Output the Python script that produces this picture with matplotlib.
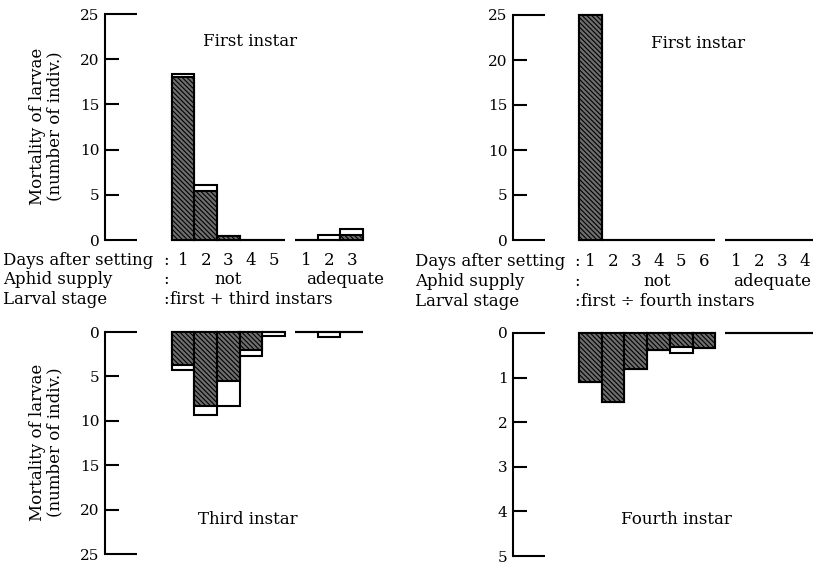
import numpy as np
import matplotlib.pyplot as plt
from matplotlib import transforms

plt.rcParams['font.family'] = 'DejaVu Serif'
plt.rcParams['hatch.linewidth'] = 0.8

# first + third instars (left), first + fourth instars (right)
days_left_not = ["1", "2", "3", "4", "5"]
days_left_adeq = ["1", "2", "3"]
days_right_not = ["1", "2", "3", "4", "5", "6"]
days_right_adeq = ["1", "2", "3", "4"]

# hatched part and total height of each bar
first_left_hatch = [18.0, 5.4, 0.4, 0, 0, 0, 0, 0.5]
first_left_total = [18.4, 6.1, 0.4, 0, 0, 0, 0.5, 1.2]
third_hatch = [3.7, 8.3, 5.5, 2.0, 0, 0, 0, 0]
third_total = [4.3, 9.4, 8.3, 2.7, 0.4, 0, 0.6, 0]

first_right_hatch = [25, 0, 0, 0, 0, 0, 0, 0, 0, 0]
first_right_total = [25, 0, 0, 0, 0, 0, 0, 0, 0, 0]
fourth_hatch = [1.1, 1.55, 0.8, 0.37, 0.31, 0.34, 0, 0, 0, 0]
fourth_total = [1.1, 1.55, 0.8, 0.37, 0.45, 0.34, 0, 0, 0, 0]

W, H = 813, 568
fig = plt.figure(figsize=(W / 100, H / 100), dpi=100)


def px_axes(left, top, right, bottom):
    return fig.add_axes([left / W, 1 - bottom / H, (right - left) / W, (bottom - top) / H])


def positions(n_not, n_adeq, gap=0.45):
    return np.concatenate([np.arange(n_not), n_not + gap + np.arange(n_adeq)])


def panel(ax, pos, hatch_vals, total_vals, ymax, step, invert, xlim):
    ax.bar(pos, total_vals, width=1.0, facecolor='white', edgecolor='black',
           linewidth=1.5, clip_on=False)
    ax.bar(pos, hatch_vals, width=1.0, facecolor='#6e6e6e', edgecolor='black',
           linewidth=1.5, hatch='\\\\\\\\\\\\\\', clip_on=False)
    ax.set_xlim(*xlim)
    ax.set_ylim((ymax, 0) if invert else (0, ymax))
    for s in ['top', 'right', 'bottom']:
        ax.spines[s].set_visible(False)
    ax.spines['left'].set_linewidth(1.5)
    ax.set_xticks([])
    ax.set_yticks(np.arange(0, ymax + step / 2, step))
    ax.tick_params(axis='y', direction='in', length=10, width=1.5, pad=4, labelsize=11)
    ticks = ax.yaxis.get_major_ticks()
    ticks[0].tick1line.set_markersize(23)
    ticks[-1].tick1line.set_markersize(23)


pos_l = positions(len(days_left_not), len(days_left_adeq))
pos_r = positions(len(days_right_not), len(days_right_adeq), gap=0.44)
xlim_l = (-3.46, 8.0)
xlim_r = (-3.41, 9.94)

ax1 = px_axes(105, 14, 364, 240)
panel(ax1, pos_l, first_left_hatch, first_left_total, 25, 5, False, xlim_l)
ax2 = px_axes(105, 332, 364, 554)
panel(ax2, pos_l, third_hatch, third_total, 25, 5, True, xlim_l)
ax3 = px_axes(513, 15, 816, 240)
panel(ax3, pos_r, first_right_hatch, first_right_total, 25, 5, False, xlim_r)
ax4 = px_axes(513, 333, 816, 556)
panel(ax4, pos_r, fourth_hatch, fourth_total, 5, 1, True, xlim_r)

fs = 12
ax1.text(0.56, 1 - 28 / 226, 'First instar', transform=ax1.transAxes, ha='center', va='center', fontsize=fs)
ax3.text(0.61, 1 - 28 / 225, 'First instar', transform=ax3.transAxes, ha='center', va='center', fontsize=fs)
ax2.text(0.55, 1 - 187 / 222, 'Third instar', transform=ax2.transAxes, ha='center', va='center', fontsize=fs)
ax4.text(0.54, 1 - 187 / 223, 'Fourth instar', transform=ax4.transAxes, ha='center', va='center', fontsize=fs)

for yc in [126, 442]:
    fig.text(37 / W, 1 - yc / H, 'Mortality of larvae', rotation=90, ha='center', va='center', fontsize=fs)
    fig.text(55 / W, 1 - yc / H, '(number of indiv.)', rotation=90, ha='center', va='center', fontsize=fs)


def rows(ax, x0, colon_x, y0, days, pos, n_not, stage, not_off, adeq_off):
    fy = lambda y: 1 - y / H
    fig.text(x0 / W, fy(y0), 'Days after setting', va='center', fontsize=fs)
    fig.text(x0 / W, fy(y0 + 20), 'Aphid supply', va='center', fontsize=fs)
    fig.text(x0 / W, fy(y0 + 40), 'Larval stage', va='center', fontsize=fs)
    for k in range(3):
        fig.text(colon_x / W, fy(y0 + 20 * k), ':', va='center', ha='center', fontsize=fs)
    tr = transforms.blended_transform_factory(ax.transData, fig.transFigure)
    for p, d in zip(pos, days):
        ax.text(p, fy(y0), d, transform=tr, ha='center', va='center', fontsize=fs)
    ax.text(np.mean(pos[:n_not]) + not_off, fy(y0 + 20), 'not', transform=tr,
            ha='center', va='center', fontsize=fs)
    ax.text(np.mean(pos[n_not:]) + adeq_off, fy(y0 + 20), 'adequate', transform=tr,
            ha='center', va='center', fontsize=fs)
    fig.text((colon_x + 4) / W, fy(y0 + 40), stage, va='center', fontsize=fs)


rows(ax1, 3, 166, 260, days_left_not + days_left_adeq, pos_l, 5,
     'first + third instars', 0.0, 0.7)
rows(ax3, 415, 577, 262, days_right_not + days_right_adeq, pos_r, 6,
     'first ÷ fourth instars', 0.45, 0.05)

fig.savefig('out.png', dpi=100)
